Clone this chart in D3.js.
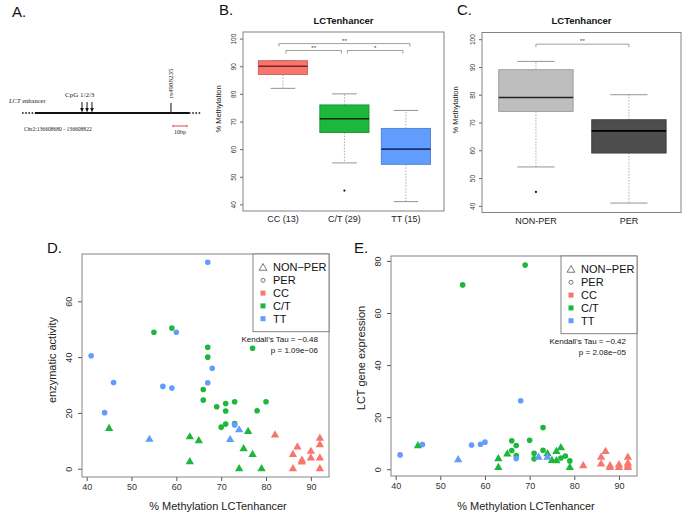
<!DOCTYPE html>
<html>
<head>
<meta charset="utf-8">
<script src="https://cdn.jsdelivr.net/npm/d3@7"></script>
<style>
body { margin: 0; background: #fff; }
svg { display: block; font-family: "Liberation Sans", Arial, sans-serif; }
</style>
</head>
<body>
<div id="chart"></div>
<script>
var width = 685,
	height = 514;

// B. methylation by genotype (boxplot stats)
var genoCats = ["CC (13)", "C/T (29)", "TT (15)"];
var genoLow = [82, 55, 41];
var genoQ1 = [87, 66, 54.5];
var genoMed = [90, 71, 60];
var genoQ3 = [92, 76, 67.5];
var genoHigh = [92, 80, 74];
var genoOut = [[], [45], []];
var genoSig = [[0, 2, "**", 2], [0, 1, "**", 1], [1, 2, "*", 1]];

// C. methylation by phenotype
var phenoCats = ["NON-PER", "PER"];
var phenoLow = [54, 41];
var phenoQ1 = [74, 59];
var phenoMed = [79, 67];
var phenoQ3 = [89, 71];
var phenoHigh = [92, 80];
var phenoOut = [[45], []];
var phenoSig = [[0, 1, "**", 2]];

var methTicks = [40, 50, 60, 70, 80, 90, 100];

// D. enzymatic activity vs methylation  [methylation, value]
var ccNonD = [[82, 12.1], [86, 5.1], [86, 0], [87, 7.8], [88, 3], [88, 2.4], [90, 6.2], [90, 3.8], [92, 10.9], [92, 8.6], [92, 3.8], [92, 0]];
var ctNonD = [[45, 14.4], [63, 11.4], [63, 2.5], [65, 10], [74, 0], [75, 7.1], [76, 13.3], [77, 5.1], [79, 0]];
var ctPerD = [[55, 48.9], [59, 50.4], [67, 43.5], [67, 40], [66, 28.4], [66, 24.6], [69, 22.2], [71, 23.4], [71, 20.7], [73, 24], [77, 43.2], [78, 20.8], [80, 24], [70, 14.9], [71, 16], [73, 16.2]];
var ttNonD = [[54, 10.5], [72, 10.4], [74, 13.9]];
var ttPerD = [[41, 40.5], [44, 20.1], [46, 30.9], [57, 29.5], [59, 28.9], [60, 48.9], [67, 30.8], [68, 36], [67, 74], [73, 15.7]];
var statsD = ["Kendall's Tau = \u22120.48", "p = 1.09e\u221206"];

// E. LCT gene expression vs methylation
var ccNonE = [[82, 1.3], [86, 4.6], [86, 2.0], [87, 6.8], [88, 1.3], [88, 0.6], [90, 1.7], [90, 0.6], [92, 4.6], [92, 2.3], [92, 1.3], [92, 0.6]];
var ctNonE = [[45, 9.0], [63, 4.0], [63, 0.6], [65, 5.8], [74, 5.9], [75, 3.3], [76, 6.8], [76, 3.2], [77, 8.2], [79, 0.6]];
var ctPerE = [[55, 70.8], [69, 78.4], [66, 10.9], [66, 7.2], [67, 9.1], [67, 5.2], [70, 11.1], [71, 6.1], [71, 4.0], [73, 16], [73, 7.3], [77, 4.3], [78, 5.1], [79, 3.2]];
var ttNonE = [[54, 3.6], [72, 4.6], [74, 4.6]];
var ttPerE = [[41, 5.5], [46, 9.5], [57, 9.3], [59, 9.6], [60, 10.4], [68, 26.3], [67, 4.1]];
var statsE = ["Kendall's Tau = \u22120.42", "p = 2.08e\u221205"];

var shapeNames = ["NON\u2212PER", "PER"];
var genoNames = ["CC", "C/T", "TT"];
var genoColors = ["#F8766D", "#1DB83B", "#619CFF"];
var phenoColors = ["#BEBEBE", "#4D4D4D"];
var methXTicks = [40, 50, 60, 70, 80, 90];

var svg = d3.select("#chart").append("svg")
	.attr("width", width)
	.attr("height", height);

//面板标签
function panelLabel(txt, x, y) {
	svg.append("text").attr("x", x).attr("y", y)
		.attr("font-size", 15).attr("fill", "#111").text(txt);
}

// ---------- A. schematic ----------
var gA = svg.append("g").attr("font-family", "\"Liberation Serif\", \"Times New Roman\", serif");
var aX = d3.scaleLinear().domain([0, 100]).range([35, 189]);
var cpgPos = [30.5, 33.8, 37];
var snpPos = [88.3];

gA.append("line").attr("x1", 22).attr("x2", aX(0)).attr("y1", 113).attr("y2", 113)
	.attr("stroke", "#111").attr("stroke-width", 1.6).attr("stroke-dasharray", "1.6,1.6");
gA.append("line").attr("x1", aX(100)).attr("x2", 201).attr("y1", 113).attr("y2", 113)
	.attr("stroke", "#111").attr("stroke-width", 1.6).attr("stroke-dasharray", "1.6,1.6");
gA.append("line").attr("x1", aX(0)).attr("x2", aX(100)).attr("y1", 113).attr("y2", 113)
	.attr("stroke", "#111").attr("stroke-width", 2.2);

var lctT = gA.append("text").attr("x", 9).attr("y", 103).attr("font-size", 6.5).attr("fill", "#222");
lctT.append("tspan").attr("font-style", "italic").text("LCT");
lctT.append("tspan").text(" enhancer");

gA.append("text").attr("x", 65).attr("y", 97).attr("font-size", 7).attr("fill", "#222").text("CpG 1/2/3");

gA.selectAll(".cpg").data(cpgPos).enter().append("line")
	.attr("class", "cpg")
	.attr("x1", function(d){ return aX(d); }).attr("x2", function(d){ return aX(d); })
	.attr("y1", 102).attr("y2", 109)
	.attr("stroke", "#111").attr("stroke-width", 1);
gA.selectAll(".cpgHead").data(cpgPos).enter().append("path")
	.attr("class", "cpgHead")
	.attr("d", function(d){ var x = aX(d); return "M" + (x - 1.8) + ",108 L" + (x + 1.8) + ",108 L" + x + ",112.5 Z"; })
	.attr("fill", "#111");

gA.selectAll(".snp").data(snpPos).enter().append("line")
	.attr("x1", function(d){ return aX(d); }).attr("x2", function(d){ return aX(d); })
	.attr("y1", 103).attr("y2", 113)
	.attr("stroke", "#333").attr("stroke-width", 1.2);
gA.append("text")
	.attr("transform", "translate(" + (aX(snpPos[0]) + 2.5) + ",98) rotate(-90)")
	.attr("font-size", 7).attr("fill", "#222").text("rs4988235");

gA.append("text").attr("x", 24).attr("y", 131).attr("font-size", 5.6).attr("fill", "#222")
	.text("Chr2:136608680 - 136608822");

// 10bp scale bar
gA.append("line").attr("x1", 173).attr("x2", 187).attr("y1", 126).attr("y2", 126)
	.attr("stroke", "#d23a3a").attr("stroke-width", 0.9);
gA.append("line").attr("x1", 173).attr("x2", 173).attr("y1", 124.8).attr("y2", 127.2)
	.attr("stroke", "#d23a3a").attr("stroke-width", 0.9);
gA.append("line").attr("x1", 187).attr("x2", 187).attr("y1", 124.8).attr("y2", 127.2)
	.attr("stroke", "#d23a3a").attr("stroke-width", 0.9);
gA.append("text").attr("x", 180).attr("y", 134).attr("text-anchor", "middle")
	.attr("font-size", 6).attr("fill", "#222").text("10bp");

panelLabel("A.", 12, 17);

// ---------- boxplots ----------
function boxPanel(o) {
	var g = svg.append("g");
	var x = d3.scaleLinear().domain(o.xDomain).range([o.left, o.right]);
	var y = d3.scaleLinear().domain([37.6, 102.4]).range([o.bottom, o.top]);
	var hw = (x(1.4) - x(1)); // half box width
	var idx = d3.range(o.cats.length);

	// y axis
	var ya = g.append("g").attr("transform", "translate(" + o.left + ",0)")
		.call(d3.axisLeft(y).tickValues(methTicks).tickSize(3).tickSizeOuter(0));
	ya.select(".domain").remove();
	ya.selectAll("line").attr("stroke", "#666");
	ya.selectAll("text")
		.attr("x", 0).attr("y", -7).attr("dy", 0)
		.attr("transform", "rotate(-90)")
		.attr("text-anchor", "middle")
		.attr("font-size", 6.5).attr("fill", "#333");

	// whiskers
	idx.forEach(function(i){
		var cx = x(i + 1);
		g.append("line").attr("x1", cx).attr("x2", cx)
			.attr("y1", y(o.q3[i])).attr("y2", y(o.high[i]))
			.attr("stroke", "#999").attr("stroke-width", 0.8).attr("stroke-dasharray", "1.5,1.5");
		g.append("line").attr("x1", cx).attr("x2", cx)
			.attr("y1", y(o.q1[i])).attr("y2", y(o.low[i]))
			.attr("stroke", "#999").attr("stroke-width", 0.8).attr("stroke-dasharray", "1.5,1.5");
		[o.low[i], o.high[i]].forEach(function(v){
			g.append("line").attr("x1", cx - hw / 2).attr("x2", cx + hw / 2)
				.attr("y1", y(v)).attr("y2", y(v))
				.attr("stroke", "#888").attr("stroke-width", 0.9);
		});
	});

	// boxes
	g.selectAll(".box").data(idx).enter().append("rect")
		.attr("x", function(i){ return x(i + 1) - hw; })
		.attr("width", 2 * hw)
		.attr("y", function(i){ return y(o.q3[i]); })
		.attr("height", function(i){ return y(o.q1[i]) - y(o.q3[i]); })
		.attr("fill", function(i){ return o.colors[i]; })
		.attr("stroke", function(i){ return d3.color(o.colors[i]).darker(0.6); })
		.attr("stroke-width", 0.9);
	g.selectAll(".med").data(idx).enter().append("line")
		.attr("x1", function(i){ return x(i + 1) - hw; })
		.attr("x2", function(i){ return x(i + 1) + hw; })
		.attr("y1", function(i){ return y(o.med[i]); })
		.attr("y2", function(i){ return y(o.med[i]); })
		.attr("stroke", function(i){ return o.medColors[i]; })
		.attr("stroke-width", 1.6);

	// outliers
	idx.forEach(function(i){
		o.out[i].forEach(function(v){
			g.append("circle").attr("cx", x(i + 1)).attr("cy", y(v)).attr("r", 1.1).attr("fill", "#111");
		});
	});

	// significance brackets
	o.sig.forEach(function(s){
		var inset = s[3] === 1 ? 3 : o.outerInset;
		var x1 = x(s[0] + 1) + inset, x2 = x(s[1] + 1) - inset;
		var yy = y(93.2 + s[3] * 2.5);
		g.append("path")
			.attr("d", "M" + x1 + "," + (yy + 3) + "V" + yy + "H" + x2 + "V" + (yy + 3))
			.attr("fill", "none").attr("stroke", "#777").attr("stroke-width", 0.7);
		g.append("text").attr("x", (x1 + x2) / 2).attr("y", yy - 1)
			.attr("text-anchor", "middle").attr("font-size", 6).attr("fill", "#333").text(s[2]);
	});

	// category labels
	g.selectAll(".cat").data(o.cats).enter().append("text")
		.attr("x", function(d, i){ return x(i + 1); })
		.attr("y", o.bottom + 11)
		.attr("text-anchor", "middle").attr("font-size", 9).attr("fill", "#222")
		.text(function(d){ return d; });

	// frame
	g.append("rect").attr("x", o.left).attr("y", o.top)
		.attr("width", o.right - o.left).attr("height", o.bottom - o.top)
		.attr("fill", "none").attr("stroke", "#777").attr("stroke-width", 0.9);

	g.append("text").attr("x", (o.left + o.right) / 2).attr("y", 24)
		.attr("text-anchor", "middle").attr("font-size", 9.5).attr("font-weight", "bold")
		.attr("fill", "#111").text("LCTenhancer");
	g.append("text")
		.attr("transform", "translate(" + o.ylabX + "," + o.ylabY + ") rotate(-90)")
		.attr("text-anchor", "middle").attr("font-size", 7.5).attr("fill", "#222")
		.text("% Methylation");
}

boxPanel({
	left: 243, right: 444, top: 32, bottom: 211, xDomain: [0.35, 3.62],
	cats: genoCats, low: genoLow, q1: genoQ1, med: genoMed, q3: genoQ3, high: genoHigh, out: genoOut,
	colors: genoColors, medColors: ["#7a2320", "#0b2e10", "#1c2f6a"], sig: genoSig, outerInset: -4,
	ylabX: 221, ylabY: 109
});
boxPanel({
	left: 482, right: 681, top: 32.5, bottom: 212.5, xDomain: [0.42, 2.56],
	cats: phenoCats, low: phenoLow, q1: phenoQ1, med: phenoMed, q3: phenoQ3, high: phenoHigh, out: phenoOut,
	colors: phenoColors, medColors: ["#222", "#000"], sig: phenoSig, outerInset: 0,
	ylabX: 458, ylabY: 110
});
panelLabel("B.", 219, 15);
panelLabel("C.", 457, 15);

// ---------- scatter plots ----------
function scatterPanel(o) {
	var g = svg.append("g");
	var x = d3.scaleLinear().domain([38.96, 94.04]).range([o.left, o.right]);
	var y = d3.scaleLinear().domain(o.yDomain).range([o.bottom, o.top]);

	var xa = g.append("g").attr("transform", "translate(0," + o.bottom + ")")
		.call(d3.axisBottom(x).tickValues(methXTicks).tickSize(4).tickSizeOuter(0));
	xa.select(".domain").remove();
	xa.selectAll("line").attr("stroke", "#555");
	xa.selectAll("text").attr("y", 7).attr("font-size", 9).attr("fill", "#333");

	var ya = g.append("g").attr("transform", "translate(" + o.left + ",0)")
		.call(d3.axisLeft(y).tickValues(o.yTicks).tickSize(4).tickSizeOuter(0));
	ya.select(".domain").remove();
	ya.selectAll("line").attr("stroke", "#555");
	ya.selectAll("text")
		.attr("x", 0).attr("y", -10).attr("dy", 0)
		.attr("transform", "rotate(-90)")
		.attr("text-anchor", "middle")
		.attr("font-size", 9).attr("fill", "#333");

	var tri = d3.symbol().type(d3.symbolTriangle).size(30);
	var circ = d3.symbol().type(d3.symbolCircle).size(25);
	o.groups.forEach(function(gr){
		g.selectAll(null).data(gr.pts).enter().append("path")
			.attr("d", gr.shape === "tri" ? tri : circ)
			.attr("transform", function(d){ return "translate(" + x(d[0]) + "," + y(d[1]) + ")"; })
			.attr("fill", gr.color);
	});

	g.append("rect").attr("x", o.left).attr("y", o.top)
		.attr("width", o.right - o.left).attr("height", o.bottom - o.top)
		.attr("fill", "none").attr("stroke", "#777").attr("stroke-width", 0.9);

	// legend
	var lg = g.append("g");
	var lTop = o.top, lStep = 12.8, lFirst = o.top + 13.5;
	lg.append("rect").attr("x", o.legLeft).attr("y", lTop)
		.attr("width", o.right - o.legLeft).attr("height", lFirst + 4 * lStep + 13 - lTop)
		.attr("fill", "#fff").attr("stroke", "#777").attr("stroke-width", 0.9);
	var items = shapeNames.concat(genoNames);
	items.forEach(function(name, i){
		var yy = lFirst + i * lStep, sx = o.legLeft + 10;
		if (i === 0) {
			lg.append("path").attr("d", d3.symbol().type(d3.symbolTriangle).size(26)())
				.attr("transform", "translate(" + sx + "," + (yy + 0.5) + ")")
				.attr("fill", "none").attr("stroke", "#555").attr("stroke-width", 0.8);
		} else if (i === 1) {
			lg.append("circle").attr("cx", sx).attr("cy", yy).attr("r", 2)
				.attr("fill", "none").attr("stroke", "#555").attr("stroke-width", 0.8);
		} else {
			lg.append("rect").attr("x", sx - 2.5).attr("y", yy - 2.5).attr("width", 5).attr("height", 5)
				.attr("fill", genoColors[i - 2]);
		}
		lg.append("text").attr("x", o.legLeft + 20).attr("y", yy).attr("dy", "0.36em")
			.attr("font-size", 11).attr("fill", "#111").text(name);
	});

	// Kendall stats
	o.stats.forEach(function(s, i){
		g.append("text").attr("x", o.right - 11).attr("y", o.top + 88 + i * 11)
			.attr("text-anchor", "end").attr("font-size", 8).attr("fill", "#111").text(s);
	});

	g.append("text").attr("x", o.xlabX).attr("y", 510)
		.attr("text-anchor", "middle").attr("font-size", 11).attr("fill", "#222")
		.text("% Methylation LCTenhancer");
	g.append("text")
		.attr("transform", "translate(" + o.ylabX + "," + o.ylabY + ") rotate(-90)")
		.attr("text-anchor", "middle").attr("font-size", 11).attr("fill", "#222")
		.text(o.ylab);
}

scatterPanel({
	left: 82, right: 329, top: 254, bottom: 477, yDomain: [-2.96, 76.96], yTicks: [0, 20, 40, 60],
	groups: [
		{ pts: ccNonD, color: genoColors[0], shape: "tri" },
		{ pts: ctNonD, color: genoColors[1], shape: "tri" },
		{ pts: ctPerD, color: genoColors[1], shape: "circ" },
		{ pts: ttNonD, color: genoColors[2], shape: "tri" },
		{ pts: ttPerD, color: genoColors[2], shape: "circ" }
	],
	legLeft: 253, stats: statsD, ylab: "enzymatic activity", ylabX: 56, ylabY: 360, xlabX: 218
});
scatterPanel({
	left: 391, right: 637, top: 256, bottom: 476, yDomain: [-2.6, 81.9], yTicks: [0, 20, 40, 60, 80],
	groups: [
		{ pts: ccNonE, color: genoColors[0], shape: "tri" },
		{ pts: ctNonE, color: genoColors[1], shape: "tri" },
		{ pts: ctPerE, color: genoColors[1], shape: "circ" },
		{ pts: ttNonE, color: genoColors[2], shape: "tri" },
		{ pts: ttPerE, color: genoColors[2], shape: "circ" }
	],
	legLeft: 561, stats: statsE, ylab: "LCT gene expression", ylabX: 365, ylabY: 358, xlabX: 526
});
panelLabel("D.", 47, 253);
panelLabel("E.", 354, 253);
</script>
</body>
</html>
